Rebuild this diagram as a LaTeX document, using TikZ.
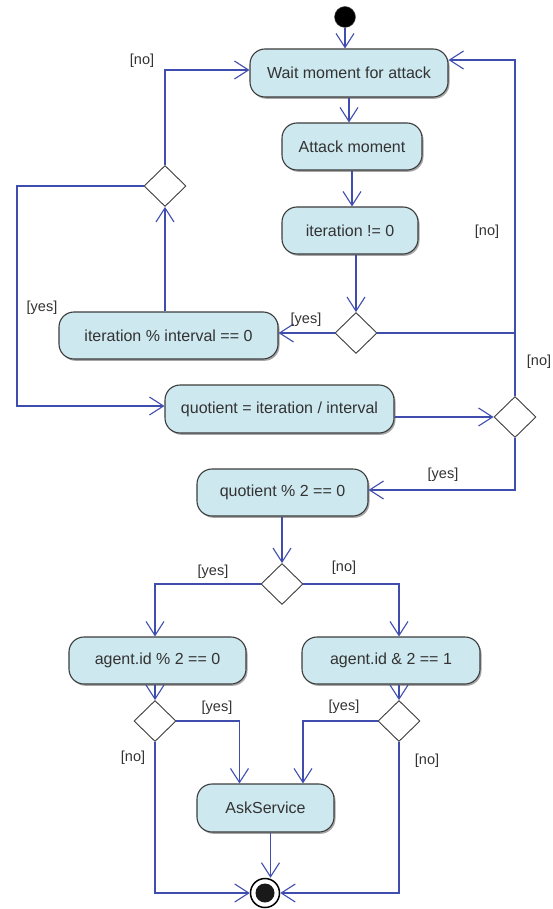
\documentclass[tikz,border=0pt]{standalone}
\usepackage{fontspec}
\setmainfont{Liberation Sans}
\usetikzlibrary{arrows.meta,shapes.geometric,shadows,calc}
\definecolor{lncol}{HTML}{3F4DAF}
\definecolor{bxcol}{HTML}{CDE8EF}
\definecolor{bdcol}{HTML}{3C3C3C}
\begin{document}
\begin{tikzpicture}[x=1pt,y=-1pt,
 act/.style={draw=bdcol,fill=bxcol,line width=1.1pt,rounded corners=15pt,minimum height=48pt,inner sep=0pt,
   font=\fontsize{16}{19}\selectfont,text=black!80,
   drop shadow={shadow xshift=1.5pt,shadow yshift=-1.8pt,fill=black,opacity=0.35}},
 dec/.style={diamond,draw=bdcol,fill=white,line width=0.9pt,minimum width=42pt,minimum height=41pt,inner sep=0pt},
 arr/.style={draw=lncol,line width=1.1pt,-{Straight Barb[length=14pt,width=18pt]}},
 wire/.style={draw=lncol,line width=1.1pt},
 lbl/.style={font=\fontsize{14.5}{17}\selectfont,text=black!80,inner sep=0pt}
]
\fill[white] (0,0) rectangle (552,909);
\useasboundingbox (0,0) rectangle (552,909);

% start / end
\node[circle,fill=black,draw=black!70,minimum size=21pt,inner sep=0pt] (start) at (345,17) {};
\node[circle,fill=white,draw=black,line width=1.5pt,minimum size=29pt,inner sep=0pt] (end) at (265,893) {};
\fill[black!90] (end.center) circle[radius=9.5pt];

% actions
\node[act,minimum width=198pt] (wait) at (349,73) {Wait moment for attack};
\node[act,minimum width=140pt,minimum height=47pt] (attack) at (352,146.5) {Attack moment};
\node[act,minimum width=136pt,minimum height=47pt] (iter) at (350,230.5) {iteration != 0};
\node[act,minimum width=219pt,minimum height=47pt] (itmod) at (168.5,335.5) {iteration \% interval == 0};
\node[act,minimum width=229pt] (quot) at (279.5,409) {quotient = iteration / interval};
\node[act,minimum width=171pt,minimum height=47pt] (q2) at (282.5,492.5) {quotient \% 2 == 0};
\node[act,minimum width=177pt,minimum height=47pt] (ag0) at (157.5,660.5) {agent.id \% 2 == 0};
\node[act,minimum width=178pt,minimum height=47pt] (ag1) at (391,660.5) {agent.id \& 2 == 1};
\node[act,minimum width=137pt] (ask) at (265.5,808) {AskService};

% decisions
\node[dec] (d1) at (356,333) {};
\node[dec] (d3) at (165,186) {};
\node[dec] (d2) at (515,417) {};
\node[dec] (d4) at (282,584) {};
\node[dec] (d5) at (155,721) {};
\node[dec] (d6) at (399,721) {};

\coordinate (lc) at (17,406);
\coordinate (wr) at ([yshift=13pt]wait.east);

% connectors
\draw[arr] (start) -- (start |- wait.north);
\draw[arr] (wait.south) -- (wait.south |- attack.north);
\draw[arr] (attack.south) -- (attack.south |- iter.north);
\draw[arr] (d1.north |- iter.south) -- (d1.north);
\draw[arr] (d1.west) -- (d1.west -| itmod.east);
\draw[arr] (d1.east) -- (d2.north |- d1.east) -- (d2.north |- wr) -- (wr);
\draw[wire] (d2.north) -- (d2.north |- d1.east);
\draw[arr] (d3.south |- itmod.north) -- (d3.south);
\draw[arr] (d3.north) |- ([yshift=3pt]wait.west);
\draw[arr] (d3.west) -| (lc) -- ([yshift=3pt]quot.west);
\draw[arr] (quot.east |- d2.west) -- (d2.west);
\draw[arr] (d2.south) |- ([yshift=2.5pt]q2.east);
\draw[arr] (d4.north |- q2.south) -- (d4.north);
\draw[arr] (d4.west) -| (d5.north |- ag0.north);
\draw[arr] (d4.east) -| (d6.north |- ag1.north);
\draw[arr] (d5.north |- ag0.south) -- (d5.north);
\draw[arr] (d6.north |- ag1.south) -- (d6.north);
\draw[arr] (d5.east) -| ([xshift=-26pt]ask.north);
\draw[arr] (d6.west) -| ([xshift=37.5pt]ask.north);
\draw[arr] (d5.south) |- (end.west);
\draw[arr] (d6.south) |- (end.east);
\draw[arr] ([xshift=5pt]ask.south) -- ([xshift=5pt]ask.south |- end.north);

% labels
\node[lbl] (l1) at (142,61) {[no]};
\node[lbl] (l2) at (487,232) {[no]};
\node[lbl] (l3) at (42,308) {[yes]};
\node[lbl] (l4) at (306,320) {[yes]};
\node[lbl] (l5) at (539,362) {[no]};
\node[lbl] (l6) at (443,475) {[yes]};
\node[lbl] (l7) at (213,572) {[yes]};
\node[lbl] (l8) at (344,568) {[no]};
\node[lbl] (l9) at (217,708) {[yes]};
\node[lbl] (l10) at (344,707) {[yes]};
\node[lbl] (l11) at (133,758) {[no]};
\node[lbl] (l12) at (427,761) {[no]};
\end{tikzpicture}
\end{document}
